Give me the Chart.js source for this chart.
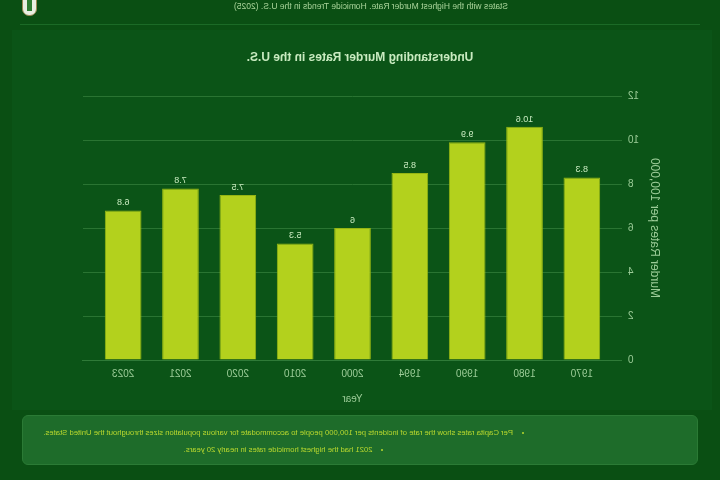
<!DOCTYPE html>
<html lang="en">
<head>
  <meta charset="UTF-8" />
  <title>Understanding Murder Rates in the U.S.</title>
  <script src="https://cdn.jsdelivr.net/npm/chart.js"></script>
  <style>
    html, body {
      margin: 0;
      padding: 0;
      width: 720px;
      height: 480px;
      overflow: hidden;
      background: #0a4f13;
      font-family: "Liberation Sans", Arial, sans-serif;
    }

    /* the reference is a mirrored capture, so the whole page is flipped */
    .page {
      position: relative;
      width: 720px;
      height: 480px;
      transform: scaleX(-1);
    }

    .header {
      position: absolute;
      left: 20px;
      right: 20px;
      top: 0;
      height: 24px;
      border-bottom: 1px solid #1b6a26;
    }

    .header .text {
      position: absolute;
      left: 192px;
      top: 1px;
      font-size: 8.5px;
      color: #a9d49a;
    }

    .logo {
      position: absolute;
      right: 2px;
      top: -4px;
      width: 13px;
      height: 18px;
      border-radius: 0 0 7px 7px;
      background: #e9efe2;
      border: 1px solid #9a8a55;
    }

    .logo::after {
      content: "";
      position: absolute;
      left: 4px;
      top: 3px;
      width: 5px;
      height: 11px;
      background: #2e7d32;
    }

    .chart-box {
      position: absolute;
      left: 8px;
      top: 30px;
      width: 700px;
      height: 380px;
      background: #0b5417;
    }

    .chart-title {
      position: absolute;
      left: 0;
      width: 720px;
      top: 50px;
      text-align: center;
      font-size: 12px;
      font-weight: bold;
      color: #c9ebc0;
    }

    #murderChart {
      position: absolute;
      left: 0;
      top: 40px;
    }

    .notes {
      position: absolute;
      left: 22px;
      top: 415px;
      width: 676px;
      height: 50px;
      background: #1e6c2a;
      border: 1px solid #2b7a35;
      border-radius: 6px;
      box-sizing: border-box;
    }

    .notes ul {
      margin: 0;
      padding: 8px 0 0 153px;
      text-align: center;
      list-style-position: inside;
      font-size: 7.7px;
      line-height: 17px;
      white-space: nowrap;
      color: #b9d82e;
    }
  </style>
</head>
<body>
  <div class="page">
    <div class="header">
      <div class="text">States with the Highest Murder Rate. Homicide Trends in the U.S. (2025)</div>
      <div class="logo"></div>
    </div>

    <div class="chart-box">
      <canvas id="murderChart"></canvas>
    </div>

    <div class="chart-title">Understanding Murder Rates in the U.S.</div>

    <div class="notes">
      <ul>
        <li>Per Capita rates show the rate of incidents per 100,000 people to accommodate for various population sizes throughout the United States.</li>
        <li>2021 had the highest homicide rates in nearly 20 years.</li>
      </ul>
    </div>
  </div>

  <script>
    const years = ['1970', '1980', '1990', '1994', '2000', '2010', '2020', '2021', '2023'];
    const murderRates = [8.3, 10.6, 9.9, 8.5, 6, 5.3, 7.5, 7.8, 6.8];
    const yTicks = [0, 2, 4, 6, 8, 10, 12];

    // simple value labels above each bar
    const barValues = {
      id: 'barValues',
      afterDatasetsDraw(chart) {
        const ctx = chart.ctx;
        const meta = chart.getDatasetMeta(0);
        ctx.save();
        ctx.font = '9px "Liberation Sans", Arial, sans-serif';
        ctx.fillStyle = '#c9ebc0';
        ctx.textAlign = 'center';
        ctx.textBaseline = 'bottom';
        meta.data.forEach((bar, i) => {
          ctx.fillText(murderRates[i], bar.x, bar.y - 3);
        });
        ctx.restore();
      }
    };

    const canvas = document.getElementById('murderChart');
    canvas.width = 700;
    canvas.height = 340;

    // x is a linear index axis so the bars sit a little in from the grid ends
    const points = murderRates.map((v, i) => ({ x: i, y: v }));

    new Chart(canvas.getContext('2d'), {
      type: 'bar',
      data: {
        datasets: [{
          label: 'Murder Rate',
          data: points,
          backgroundColor: '#b3d11d',
          borderColor: '#95b513',
          borderWidth: 1,
          barPercentage: 0.8,
          categoryPercentage: 0.8
        }]
      },
      options: {
        responsive: false,
        animation: false,
        layout: { padding: { left: 46, right: 71, top: 26, bottom: 4 } },
        plugins: {
          legend: { display: false },
          tooltip: { enabled: false }
        },
        scales: {
          x: {
            type: 'linear',
            min: -0.7,
            max: years.length - 0.3,
            offset: false,
            afterBuildTicks(axis) {
              axis.ticks = years.map((y, i) => ({ value: i }));
            },
            afterFit(axis) { axis.height = 46; },
            grid: { display: false, drawTicks: false },
            border: { color: '#2f7a38' },
            ticks: {
              color: '#9ccc98',
              font: { size: 10 },
              padding: 8,
              maxRotation: 0,
              autoSkip: false,
              callback: (v) => years[v]
            },
            title: {
              display: true,
              text: 'Year',
              color: '#9ccc98',
              font: { size: 10 },
              padding: { top: 10, bottom: 1 }
            }
          },
          y: {
            min: 0,
            max: 12,
            afterBuildTicks(axis) {
              axis.ticks = yTicks.map(v => ({ value: v }));
            },
            afterFit(axis) { axis.width = 44; },
            grid: { color: '#2a7432', drawTicks: false },
            border: { display: false },
            ticks: { color: '#9ccc98', font: { size: 10 }, padding: 6 },
            title: {
              display: true,
              text: 'Murder Rates per 100,000',
              color: '#9ccc98',
              font: { size: 12 },
              padding: { top: 4, bottom: 4 }
            }
          }
        }
      },
      plugins: [barValues]
    });
  </script>
</body>
</html>
